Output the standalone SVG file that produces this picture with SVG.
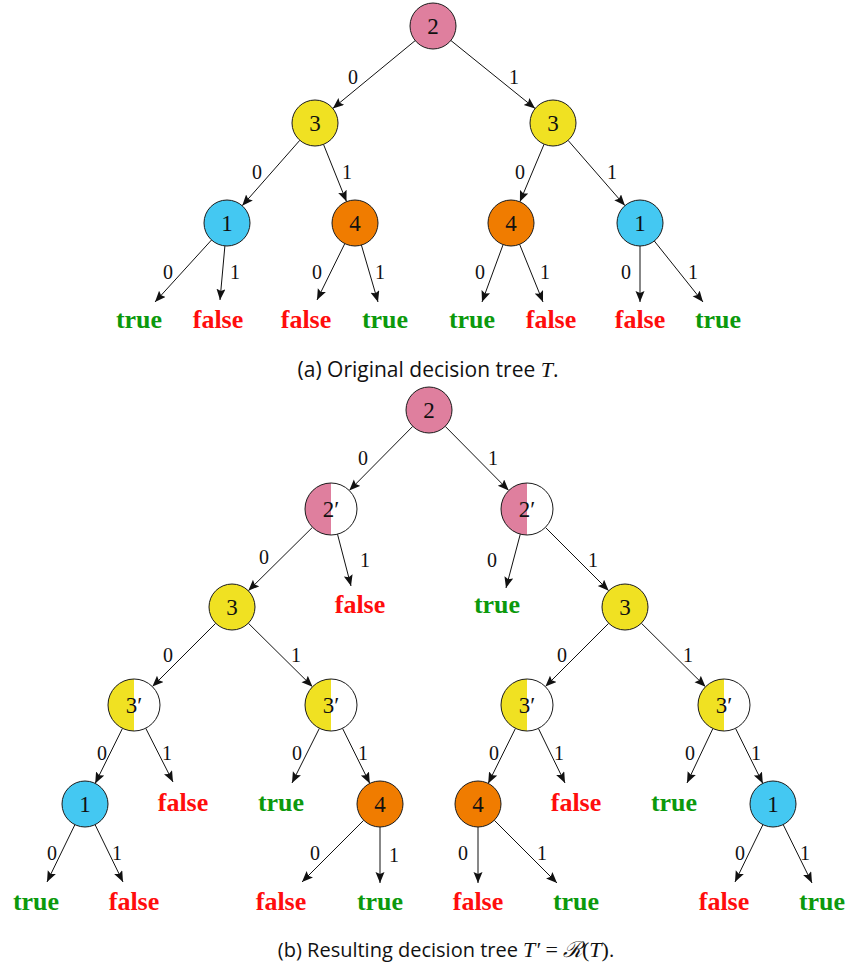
<svg xmlns="http://www.w3.org/2000/svg" width="849" height="968" viewBox="0 0 849 968">
  <style>
    .n { stroke: #1a1a1a; stroke-width: 1; }
    .pink { fill: #df7f9e; }
    .yellow { fill: #f0e122; }
    .blue { fill: #44c8f2; }
    .orange { fill: #f07c00; }
    .white { fill: #ffffff; }
    .lbl { font-family: "Liberation Serif", "DejaVu Serif", serif; font-size: 23px; fill: #111; text-anchor: middle; }
    .el { font-family: "Liberation Serif", "DejaVu Serif", serif; font-size: 20px; fill: #111; text-anchor: middle; }
    .t { font-family: "Liberation Serif", "DejaVu Serif", serif; font-size: 26px; font-weight: bold; fill: #0c990c; text-anchor: middle; }
    .f { font-family: "Liberation Serif", "DejaVu Serif", serif; font-size: 26px; font-weight: bold; fill: #ff0d0d; text-anchor: middle; }
    .cap { font-family: "Open Sans", "Liberation Sans", sans-serif; font-size: 20px; fill: #111; text-anchor: middle; }
    .cap-a { font-size: 21px; }
    .mi { font-family: "Liberation Serif", "DejaVu Serif", serif; font-style: italic; font-size: 22px; }
    .mr { font-family: "Liberation Serif", "DejaVu Serif", serif; font-size: 22px; }
    .e { stroke: #111; stroke-width: 1; fill: none; marker-end: url(#arr); }
  </style>
  <defs>
    <marker id="arr" markerUnits="userSpaceOnUse" markerWidth="12" markerHeight="10" refX="11" refY="4.5" orient="auto">
      <path d="M0,0 L11,4.5 L0,9 L2,4.5 z" fill="#111"/>
    </marker>
  </defs>

  <rect width="849" height="968" fill="#ffffff"/>

  <!-- connectors -->
  <g id="connectors">
    <!-- tree T -->
    <line class="e" x1="415.2" y1="40.6" x2="332.8" y2="108.4"/>
    <line class="e" x1="450.9" y1="40.5" x2="535.1" y2="108.5"/>
    <line class="e" x1="299.8" y1="140.3" x2="242.2" y2="205.7"/>
    <line class="e" x1="323.5" y1="144.4" x2="346.5" y2="201.6"/>
    <line class="e" x1="544.1" y1="144.2" x2="519.9" y2="201.8"/>
    <line class="e" x1="568.1" y1="140.4" x2="624.9" y2="205.6"/>
    <line class="e" x1="211.5" y1="240.0" x2="155" y2="302"/>
    <line class="e" x1="224.9" y1="245.9" x2="220" y2="300"/>
    <line class="e" x1="344.8" y1="243.6" x2="317" y2="300"/>
    <line class="e" x1="361.4" y1="245.1" x2="378" y2="302"/>
    <line class="e" x1="503.1" y1="244.6" x2="482" y2="302"/>
    <line class="e" x1="519.6" y1="244.3" x2="543" y2="302"/>
    <line class="e" x1="640" y1="246" x2="640" y2="302"/>
    <line class="e" x1="654.3" y1="241.0" x2="703" y2="302"/>
    <!-- tree T' -->
    <line class="e" x1="412.8" y1="426.3" x2="349.3" y2="490.5"/>
    <line class="e" x1="445.2" y1="426.3" x2="508.7" y2="490.5"/>
    <line class="e" x1="312.5" y1="527.3" x2="248.3" y2="590.8"/>
    <line class="e" x1="337.5" y1="534.2" x2="351" y2="586"/>
    <line class="e" x1="520.3" y1="534.1" x2="506" y2="588"/>
    <line class="e" x1="545.4" y1="527.4" x2="608.7" y2="590.7"/>
    <line class="e" x1="215.7" y1="623.3" x2="152.4" y2="686.6"/>
    <line class="e" x1="248.3" y1="623.2" x2="312.5" y2="686.7"/>
    <line class="e" x1="608.7" y1="623.3" x2="545.4" y2="686.6"/>
    <line class="e" x1="641.3" y1="623.2" x2="705.5" y2="686.7"/>
    <line class="e" x1="122.5" y1="728.3" x2="95.2" y2="783.4"/>
    <line class="e" x1="145.7" y1="728.2" x2="173" y2="782"/>
    <line class="e" x1="319.4" y1="728.3" x2="292" y2="783"/>
    <line class="e" x1="342.5" y1="728.3" x2="369.8" y2="783.4"/>
    <line class="e" x1="515.5" y1="728.3" x2="488.2" y2="783.4"/>
    <line class="e" x1="538.4" y1="728.4" x2="565" y2="783"/>
    <line class="e" x1="712.9" y1="728.5" x2="687" y2="783"/>
    <line class="e" x1="735.5" y1="728.3" x2="762.8" y2="783.4"/>
    <line class="e" x1="74.9" y1="824.7" x2="47" y2="882"/>
    <line class="e" x1="95.1" y1="824.7" x2="123" y2="882"/>
    <line class="e" x1="363.7" y1="820.3" x2="302" y2="882"/>
    <line class="e" x1="380" y1="827" x2="380" y2="883"/>
    <line class="e" x1="478" y1="827" x2="478" y2="883"/>
    <line class="e" x1="494.3" y1="820.3" x2="557" y2="883"/>
    <line class="e" x1="762.9" y1="824.7" x2="735" y2="882"/>
    <line class="e" x1="783.2" y1="824.6" x2="812" y2="883"/>

    <!-- edge labels, tree T -->
    <text class="el" x="353" y="84">0</text>
    <text class="el" x="514" y="84">1</text>
    <text class="el" x="257" y="179">0</text>
    <text class="el" x="347" y="179">1</text>
    <text class="el" x="520" y="179">0</text>
    <text class="el" x="612" y="179">1</text>
    <text class="el" x="168" y="279">0</text>
    <text class="el" x="235" y="279">1</text>
    <text class="el" x="317" y="279">0</text>
    <text class="el" x="380" y="279">1</text>
    <text class="el" x="480" y="279">0</text>
    <text class="el" x="545" y="279">1</text>
    <text class="el" x="626" y="279">0</text>
    <text class="el" x="693" y="279">1</text>
    <!-- edge labels, tree T' -->
    <text class="el" x="363" y="465">0</text>
    <text class="el" x="493" y="465">1</text>
    <text class="el" x="264" y="564">0</text>
    <text class="el" x="365" y="567">1</text>
    <text class="el" x="492" y="567">0</text>
    <text class="el" x="593" y="567">1</text>
    <text class="el" x="168" y="662">0</text>
    <text class="el" x="296" y="662">1</text>
    <text class="el" x="562" y="662">0</text>
    <text class="el" x="688" y="662">1</text>
    <text class="el" x="102" y="760">0</text>
    <text class="el" x="167" y="760">1</text>
    <text class="el" x="297" y="760">0</text>
    <text class="el" x="363" y="760">1</text>
    <text class="el" x="494" y="760">0</text>
    <text class="el" x="559" y="760">1</text>
    <text class="el" x="690" y="760">0</text>
    <text class="el" x="756" y="760">1</text>
    <text class="el" x="52" y="860">0</text>
    <text class="el" x="117" y="860">1</text>
    <text class="el" x="315" y="860">0</text>
    <text class="el" x="394" y="862">1</text>
    <text class="el" x="463" y="860">0</text>
    <text class="el" x="542" y="860">1</text>
    <text class="el" x="740" y="860">0</text>
    <text class="el" x="805" y="860">1</text>
  </g>

  <!-- tree T nodes -->
  <g id="a-root"><circle class="n pink" cx="433" cy="26" r="23"/><text class="lbl" x="433" y="34">2</text></g>
  <g id="a-l"><circle class="n yellow" cx="315" cy="123" r="23"/><text class="lbl" x="315" y="131">3</text></g>
  <g id="a-r"><circle class="n yellow" cx="553" cy="123" r="23"/><text class="lbl" x="553" y="131">3</text></g>
  <g id="a-ll"><circle class="n blue" cx="227" cy="223" r="23"/><text class="lbl" x="227" y="231">1</text></g>
  <g id="a-lr"><circle class="n orange" cx="355" cy="223" r="23"/><text class="lbl" x="355" y="231">4</text></g>
  <g id="a-rl"><circle class="n orange" cx="511" cy="223" r="23"/><text class="lbl" x="511" y="231">4</text></g>
  <g id="a-rr"><circle class="n blue" cx="640" cy="223" r="23"/><text class="lbl" x="640" y="231">1</text></g>
  <g id="a-leaf1"><text class="t" x="139" y="328">true</text></g>
  <g id="a-leaf2"><text class="f" x="218" y="328">false</text></g>
  <g id="a-leaf3"><text class="f" x="306" y="328">false</text></g>
  <g id="a-leaf4"><text class="t" x="385" y="328">true</text></g>
  <g id="a-leaf5"><text class="t" x="472" y="328">true</text></g>
  <g id="a-leaf6"><text class="f" x="551" y="328">false</text></g>
  <g id="a-leaf7"><text class="f" x="640" y="328">false</text></g>
  <g id="a-leaf8"><text class="t" x="718" y="328">true</text></g>

  <text class="cap cap-a" x="428" y="377">(a) Original decision tree <tspan class="mi">T</tspan>.</text>

  <!-- tree T' nodes -->
  <g id="b-root"><circle class="n pink" cx="429" cy="410" r="23"/><text class="lbl" x="429" y="418">2</text></g>

  <g id="b-l">
    <circle class="white" cx="331" cy="509" r="26"/>
    <path class="pink" d="M331,483 A26,26 0 0 0 331,535 Z"/>
    <circle class="n" fill="none" cx="331" cy="509" r="26"/>
    <text class="lbl" x="331" y="517">2′</text>
  </g>
  <g id="b-r">
    <circle class="white" cx="527" cy="509" r="26"/>
    <path class="pink" d="M527,483 A26,26 0 0 0 527,535 Z"/>
    <circle class="n" fill="none" cx="527" cy="509" r="26"/>
    <text class="lbl" x="527" y="517">2′</text>
  </g>
  <g id="b-l-false"><text class="f" x="360" y="613">false</text></g>
  <g id="b-r-true"><text class="t" x="497" y="613">true</text></g>

  <g id="b-l3"><circle class="n yellow" cx="232" cy="607" r="23"/><text class="lbl" x="232" y="615">3</text></g>
  <g id="b-r3"><circle class="n yellow" cx="625" cy="607" r="23"/><text class="lbl" x="625" y="615">3</text></g>

  <g id="b-3a">
    <circle class="white" cx="134" cy="705" r="26"/>
    <path class="yellow" d="M134,679 A26,26 0 0 0 134,731 Z"/>
    <circle class="n" fill="none" cx="134" cy="705" r="26"/>
    <text class="lbl" x="134" y="713">3′</text>
  </g>
  <g id="b-3b">
    <circle class="white" cx="331" cy="705" r="26"/>
    <path class="yellow" d="M331,679 A26,26 0 0 0 331,731 Z"/>
    <circle class="n" fill="none" cx="331" cy="705" r="26"/>
    <text class="lbl" x="331" y="713">3′</text>
  </g>
  <g id="b-3c">
    <circle class="white" cx="527" cy="705" r="26"/>
    <path class="yellow" d="M527,679 A26,26 0 0 0 527,731 Z"/>
    <circle class="n" fill="none" cx="527" cy="705" r="26"/>
    <text class="lbl" x="527" y="713">3′</text>
  </g>
  <g id="b-3d">
    <circle class="white" cx="724" cy="705" r="26"/>
    <path class="yellow" d="M724,679 A26,26 0 0 0 724,731 Z"/>
    <circle class="n" fill="none" cx="724" cy="705" r="26"/>
    <text class="lbl" x="724" y="713">3′</text>
  </g>

  <g id="b-1a"><circle class="n blue" cx="85" cy="804" r="23"/><text class="lbl" x="85" y="812">1</text></g>
  <g id="b-3a-false"><text class="f" x="183" y="811">false</text></g>
  <g id="b-3b-true"><text class="t" x="281" y="811">true</text></g>
  <g id="b-4a"><circle class="n orange" cx="380" cy="804" r="23"/><text class="lbl" x="380" y="812">4</text></g>
  <g id="b-4b"><circle class="n orange" cx="478" cy="804" r="23"/><text class="lbl" x="478" y="812">4</text></g>
  <g id="b-3c-false"><text class="f" x="576" y="811">false</text></g>
  <g id="b-3d-true"><text class="t" x="674" y="811">true</text></g>
  <g id="b-1b"><circle class="n blue" cx="773" cy="804" r="23"/><text class="lbl" x="773" y="812">1</text></g>

  <g id="b-leaf1"><text class="t" x="36" y="910">true</text></g>
  <g id="b-leaf2"><text class="f" x="134" y="910">false</text></g>
  <g id="b-leaf3"><text class="f" x="281" y="910">false</text></g>
  <g id="b-leaf4"><text class="t" x="380" y="910">true</text></g>
  <g id="b-leaf5"><text class="f" x="478" y="910">false</text></g>
  <g id="b-leaf6"><text class="t" x="576" y="910">true</text></g>
  <g id="b-leaf7"><text class="f" x="724" y="910">false</text></g>
  <g id="b-leaf8"><text class="t" x="822" y="910">true</text></g>

  <text class="cap" x="446" y="957">(b) Resulting decision tree <tspan class="mi">T′</tspan> <tspan class="mr">=</tspan> <tspan class="mi">ℛ</tspan><tspan class="mr">(</tspan><tspan class="mi">T</tspan><tspan class="mr">)</tspan>.</text>
</svg>
